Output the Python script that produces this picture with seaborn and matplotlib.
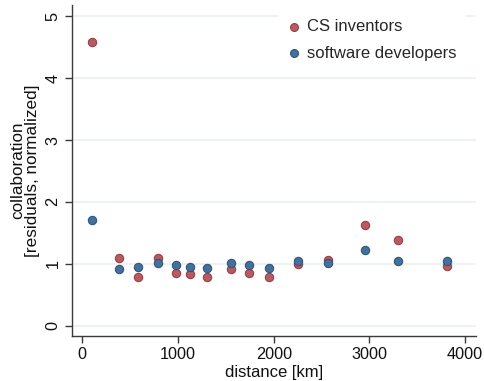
import numpy as np
import pandas as pd
import matplotlib
matplotlib.use("Agg")
import matplotlib.pyplot as plt
import seaborn as sns

distance = [98, 384, 585, 788, 983, 1129, 1307, 1554, 1739, 1954, 2251, 2564, 2954, 3302, 3811]
cs_inventors = [4.59, 1.10, 0.78, 1.10, 0.86, 0.83, 0.79, 0.91, 0.85, 0.78, 0.99, 1.07, 1.63, 1.38, 0.96]
software_devs = [1.71, 0.92, 0.95, 1.02, 0.98, 0.95, 0.93, 1.01, 0.98, 0.93, 1.05, 1.01, 1.23, 1.05, 1.04]
series_names = ["CS inventors", "software developers"]
x_ticks = [0, 1000, 2000, 3000, 4000]
y_ticks = [0, 1, 2, 3, 4, 5]

df = pd.DataFrame({
    "distance": distance * 2,
    "value": cs_inventors + software_devs,
    "group": [series_names[0]] * len(distance) + [series_names[1]] * len(distance),
})

sns.set_theme(style="white")
plt.rcParams["font.family"] = ["Liberation Sans", "DejaVu Sans"]

fig = plt.figure(figsize=(4.85, 3.81), dpi=100)
ax = fig.add_axes([71.7 / 485, 1 - 335.7 / 381, (476 - 71.7) / 485, (335.7 - 5) / 381])

palette = {series_names[0]: "#b55b62", series_names[1]: "#44709a"}
edges = {series_names[0]: "#9c3f48", series_names[1]: "#2e5780"}

for name in series_names:
    sub = df[df["group"] == name]
    sns.scatterplot(data=sub, x="distance", y="value", ax=ax, color=palette[name],
                    edgecolor=edges[name], linewidth=0.8, s=36, label=name, zorder=3)

ax.set_xlim(-111, 4114)
ax.set_ylim(-0.16, 5.18)
ax.set_xticks(x_ticks)
ax.set_yticks(y_ticks)
ax.set_yticklabels([str(v) for v in y_ticks], rotation=90, va="center")
ax.grid(axis="y", color="#eaf0f0", linewidth=1.2)
ax.set_axisbelow(True)
for side in ["top", "right"]:
    ax.spines[side].set_visible(False)
for side in ["left", "bottom"]:
    ax.spines[side].set_color("#3a3a3a")
    ax.spines[side].set_linewidth(1.0)
ax.tick_params(axis="both", which="major", length=5, width=1, color="#3a3a3a",
               labelsize=11.7, labelcolor="#111111", direction="out", bottom=True, left=True, pad=3)
ax.set_xlabel("distance [km]", fontsize=12, color="#111111", labelpad=2)
ax.set_ylabel("collaboration\n[residuals, normalized]", fontsize=12.3, color="#111111",
              labelpad=4, linespacing=1.0)

leg = ax.legend(loc="upper right", bbox_to_anchor=(472 / 485, 1 - 4 / 381),
                bbox_transform=fig.transFigure, frameon=True, fontsize=12,
                handletextpad=0.28, borderpad=0.4, labelspacing=0.7, handlelength=1.0,
                markerscale=0.95)
leg.get_frame().set_edgecolor("white")
leg.get_frame().set_facecolor("white")
leg.get_frame().set_alpha(1)

fig.savefig("out.png", dpi=100)
